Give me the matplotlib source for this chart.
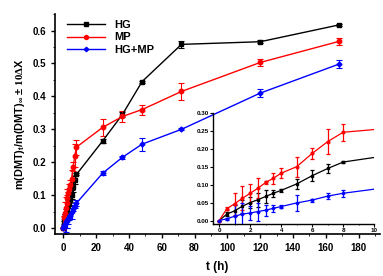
import matplotlib
matplotlib.use("Agg")
import matplotlib.pyplot as plt
from matplotlib.lines import Line2D
from matplotlib.ticker import MultipleLocator

plt.rcParams['font.family'] = ['Liberation Sans', 'DejaVu Sans']
plt.rcParams['font.weight'] = 'bold'
plt.rcParams['axes.labelweight'] = 'bold'
plt.rcParams['mathtext.fontset'] = 'custom'
plt.rcParams['mathtext.rm'] = 'Liberation Serif'
plt.rcParams['mathtext.bf'] = 'Liberation Sans:bold'
plt.rcParams['mathtext.it'] = 'Liberation Sans:italic'

# release time (h)
t = [0, 0.5, 1, 1.5, 2, 2.5, 3, 3.5, 4, 5, 6, 7, 8, 24, 36, 48, 72, 120, 168]

hg = [0, 0.018, 0.027, 0.040, 0.050, 0.058, 0.067, 0.076, 0.084, 0.102, 0.125,
      0.145, 0.163, 0.265, 0.345, 0.445, 0.558, 0.566, 0.617]
hg_err = [0, 0.005, 0.015, 0.018, 0.015, 0.02, 0.017, 0.01, 0.004, 0.013, 0.015,
          0.012, 0.003, 0.005, 0.008, 0.003, 0.01, 0.004, 0.002]

mp = [0, 0.033, 0.047, 0.062, 0.076, 0.090, 0.106, 0.118, 0.132, 0.150, 0.187,
      0.220, 0.246, 0.306, 0.339, 0.360, 0.415, 0.503, 0.567]
mp_err = [0, 0.004, 0.031, 0.033, 0.026, 0.028, 0.004, 0.015, 0.014, 0.028, 0.015,
          0.035, 0.023, 0.025, 0.018, 0.015, 0.025, 0.012, 0.01]

hgmp = [0, 0.005, 0.012, 0.018, 0.021, 0.025, 0.029, 0.034, 0.039, 0.049, 0.057,
        0.068, 0.076, 0.167, 0.215, 0.255, 0.300, 0.410, 0.498]
hgmp_err = [0, 0.003, 0.03, 0.03, 0.02, 0.025, 0.015, 0.01, 0.003, 0.022, 0.004,
            0.008, 0.01, 0.005, 0.004, 0.02, 0.003, 0.012, 0.012]

series = [
    ('HG', hg, hg_err, 'black', 's', 2.5),
    ('MP', mp, mp_err, 'red', 'o', 3.2),
    ('HG+MP', hgmp, hgmp_err, 'blue', 'D', 2.5),
]


def draw(ax, lw, ms_scale, cap, elw):
    for name, y, err, col, mk, ms in series:
        ax.errorbar(t, y, yerr=err, color=col, marker=mk, markersize=ms * ms_scale,
                    linewidth=lw, elinewidth=elw, capsize=cap, capthick=elw, label=name)
    for side in ['top', 'right']:
        ax.spines[side].set_visible(False)


fig = plt.figure(figsize=(3.83, 2.76), dpi=100)
ax = fig.add_axes([0.144, 0.152, 0.848, 0.797])
draw(ax, 1.0, 1.0, 2, 0.8)
ax.set_xlim(-5, 193)
ax.set_ylim(-0.018, 0.65)
ax.xaxis.set_major_locator(MultipleLocator(20))
ax.xaxis.set_minor_locator(MultipleLocator(10))
ax.yaxis.set_major_locator(MultipleLocator(0.1))
ax.yaxis.set_minor_locator(MultipleLocator(0.05))
ax.tick_params(labelsize=7, width=1, length=3)
ax.tick_params(which='minor', length=1.5)
for s in ax.spines.values():
    s.set_linewidth(1.2)
ax.set_xlabel('t (h)', fontsize=8.5, labelpad=6)
ax.set_ylabel(r'm(DMT)$_\mathbf{t}$/m(DMT)$_\mathbf{\infty}$ ± $\mathrm{10\Delta}$X',
              fontsize=7.8, labelpad=4)

# legend shows only line + marker, no error bars
handles = [Line2D([], [], color=col, marker=mk, markersize=ms * 0.9, linewidth=1.0)
           for name, y, err, col, mk, ms in series]
ax.legend(handles, [s[0] for s in series], loc='upper left', frameon=False,
          fontsize=8, handlelength=3.4, labelspacing=0.25, borderaxespad=0.1,
          bbox_to_anchor=(0.02, 1.0))

ins = fig.add_axes([0.556, 0.188, 0.421, 0.403])
draw(ins, 0.9, 0.6, 1.2, 0.9)
ins.set_xlim(-0.4, 10)
ins.set_ylim(-0.01, 0.30)
ins.xaxis.set_major_locator(MultipleLocator(2))
ins.xaxis.set_minor_locator(MultipleLocator(1))
ins.yaxis.set_major_locator(MultipleLocator(0.05))
ins.tick_params(labelsize=4.5, width=0.8, length=2, pad=1)
ins.tick_params(which='minor', length=1)
for s in ins.spines.values():
    s.set_linewidth(1.0)
ins.patch.set_alpha(0)

fig.savefig('out.png', dpi=100)
